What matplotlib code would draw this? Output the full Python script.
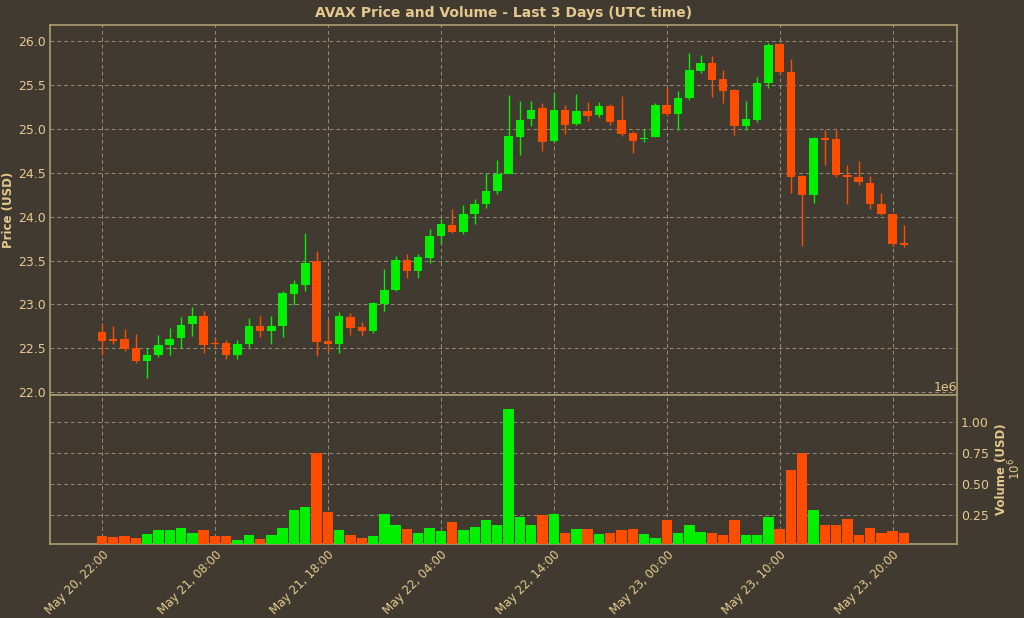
import matplotlib
matplotlib.use("Agg")
import matplotlib.pyplot as plt
import numpy as np
from datetime import datetime, timedelta

opens = [22.69,22.60,22.61,22.50,22.36,22.43,22.54,22.62,22.78,22.87,22.56,22.56,22.42,22.55,22.75,22.70,22.75,23.12,23.22,23.49,
         22.59,22.55,22.86,22.74,22.70,23.00,23.17,23.51,23.38,23.53,23.78,23.91,23.82,24.03,24.14,24.29,24.48,24.90,25.11,25.23,
         24.86,25.21,25.05,25.20,25.16,25.26,25.10,24.95,24.88,24.91,25.27,25.17,25.35,25.66,25.75,25.56,25.44,25.03,25.10,25.52,
         25.96,25.64,24.46,24.25,24.89,24.88,24.47,24.45,24.38,24.14,24.03,23.70]
closes = [22.59,22.59,22.49,22.36,22.43,22.54,22.61,22.77,22.87,22.54,22.55,22.42,22.55,22.75,22.70,22.75,23.13,23.23,23.47,22.57,
          22.55,22.87,22.73,22.70,23.02,23.17,23.51,23.38,23.54,23.78,23.92,23.82,24.03,24.14,24.29,24.48,24.92,25.10,25.21,24.85,
          25.21,25.04,25.20,25.15,25.26,25.08,24.94,24.86,24.89,25.27,25.17,25.35,25.67,25.75,25.55,25.43,25.03,25.11,25.52,25.95,
          25.64,24.45,24.24,24.89,24.87,24.47,24.45,24.39,24.14,24.03,23.69,23.68]
highs = [22.79,22.76,22.72,22.66,22.50,22.65,22.73,22.86,22.97,22.93,22.62,22.60,22.60,22.85,22.87,22.87,23.15,23.28,23.81,23.61,
         22.83,22.91,22.90,22.80,23.03,23.40,23.55,23.58,23.58,23.86,23.97,24.09,24.13,24.20,24.50,24.64,25.38,25.32,25.32,25.29,
         25.41,25.27,25.39,25.30,25.30,25.28,25.37,24.97,25.00,25.29,25.47,25.43,25.86,25.84,25.83,25.67,25.45,25.31,25.59,25.97,
         25.97,25.79,24.47,24.90,24.99,24.99,24.59,24.63,24.46,24.27,24.04,23.91]
lows = [22.42,22.55,22.47,22.33,22.16,22.40,22.43,22.50,22.64,22.45,22.52,22.38,22.38,22.52,22.63,22.55,22.63,22.99,23.15,22.41,
        22.46,22.45,22.65,22.64,22.68,22.93,23.15,23.30,23.30,23.47,23.69,23.81,23.80,23.92,24.10,24.26,24.48,24.70,25.03,24.75,
        24.85,24.94,25.04,25.09,25.13,25.04,24.92,24.72,24.85,24.90,25.15,24.99,25.33,25.63,25.36,25.29,24.93,24.99,25.08,25.46,
        25.62,24.27,23.67,24.15,24.59,24.45,24.14,24.36,24.09,24.02,23.66,23.65]
volumes_m = [0.083,0.073,0.083,0.067,0.10,0.13,0.13,0.15,0.11,0.13,0.083,0.083,0.05,0.095,0.06,0.09,0.15,0.29,0.32,0.75,
             0.28,0.13,0.09,0.07,0.085,0.26,0.17,0.14,0.105,0.145,0.125,0.20,0.13,0.155,0.215,0.17,1.105,0.235,0.17,0.25,
             0.26,0.11,0.14,0.14,0.10,0.11,0.13,0.14,0.10,0.07,0.21,0.11,0.175,0.115,0.11,0.09,0.215,0.09,0.09,0.235,
             0.14,0.62,0.755,0.29,0.17,0.17,0.22,0.09,0.15,0.105,0.125,0.105]
start = datetime(2023, 5, 20, 22, 0)
times = [start + timedelta(hours=i) for i in range(len(opens))]

BG = "#413a30"
TXT = "#e6c98e"
SPINE = "#a8966e"
GRID = "#bdb096"
UP = "#00f000"
DOWN = "#ff4d00"

fig = plt.figure(figsize=(10.24, 6.18), dpi=100, facecolor=BG)
ax1 = fig.add_axes([50/1024, 1-395/618, 907/1024, 370/618], facecolor=BG)
ax2 = fig.add_axes([50/1024, 1-544/618, 907/1024, 149/618], facecolor=BG, sharex=ax1)

x = np.arange(len(opens))
o = np.array(opens); c = np.array(closes)
cols = [UP if cc >= oo else DOWN for oo, cc in zip(o, c)]
ax1.vlines(x, lows, highs, colors=cols, linewidth=1, zorder=2)
ax1.bar(x, np.maximum(np.abs(c - o), 0.012), bottom=np.minimum(o, c), width=0.75, color=cols, zorder=3)
ax2.bar(x, np.array(volumes_m) * 1e6, width=0.92, color=cols, zorder=3)

for ax in (ax1, ax2):
    ax.grid(True, color=GRID, linestyle=(0, (4, 3)), linewidth=0.7, alpha=0.7, zorder=0)
    for s in ax.spines.values():
        s.set_color(SPINE); s.set_linewidth(1.3)
    ax.tick_params(colors=TXT, labelcolor=TXT, labelsize=9, length=0, pad=3)

ax1.set_xlim(-4.6, 75.7)
ax1.set_ylim(21.97, 26.18)
ax1.set_yticks([22.0, 22.5, 23.0, 23.5, 24.0, 24.5, 25.0, 25.5, 26.0])
ax1.set_ylabel("Price (USD)", color=TXT, fontsize=8.5, fontweight="bold", labelpad=2)
ax1.set_title("AVAX Price and Volume - Last 3 Days (UTC time)", color=TXT, fontsize=10, fontweight="bold", pad=6)
plt.setp(ax1.get_xticklabels(), visible=False)

ax2.set_ylim(0.02e6, 1.22e6)
ax2.set_yticks([0.25e6, 0.5e6, 0.75e6, 1.0e6])
ax2.yaxis.tick_right()
ax2.yaxis.set_label_position("right")
ax2.yaxis.get_offset_text().set_color(TXT)
ax2.yaxis.get_offset_text().set_fontsize(9)
ax2.set_ylabel("Volume (USD)\n$10^6$", color=TXT, fontsize=8.5, fontweight="bold", linespacing=0.9, labelpad=4)
ticks = list(range(0, 72, 10))
ax2.set_xticks(ticks)
ax2.set_xticklabels([times[i].strftime("%b %d, %H:%M") for i in ticks], rotation=45, ha="right",
                    rotation_mode="anchor", fontsize=8.5)

fig.savefig("out.png", dpi=100, facecolor=BG)
